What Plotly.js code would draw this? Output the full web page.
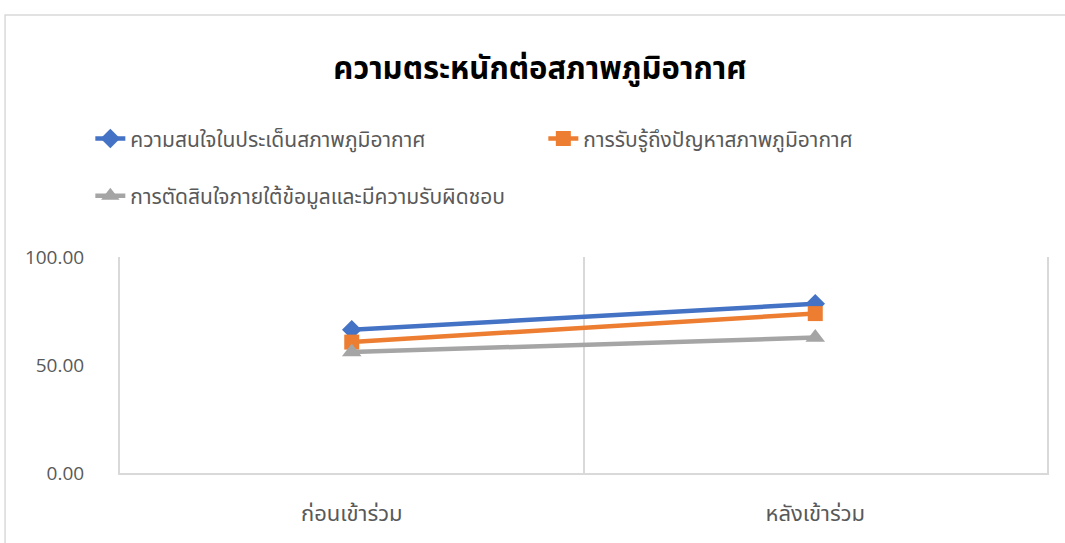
<!DOCTYPE html>
<html>
<head>
<meta charset="utf-8">
<script src="https://cdn.plot.ly/plotly-3.0.1.min.js"></script>
<style>html,body{margin:0;padding:0;background:#fff;}#chart{width:1065px;height:543px;}</style>
</head>
<body>
<div id="chart"></div>
<script>
const categories = ["ก่อนเข้าร่วม", "หลังเข้าร่วม"];
const seriesNames = ["ความสนใจในประเด็นสภาพภูมิอากาศ", "การรับรู้ถึงปัญหาสภาพภูมิอากาศ", "การตัดสินใจภายใต้ข้อมูลและมีความรับผิดชอบ"];
const interest = [66.3, 78.3];
const awareness = [60.6, 73.8];
const decision = [56.0, 62.7];
const yTicks = [0, 50, 100];

const colors = ["#4472C4", "#ED7D31", "#A5A5A5"];
const symbols = ["diamond", "square", "triangle-up"];
const values = [interest, awareness, decision];
const legends = ["legend", "legend", "legend2"];

const traces = values.map((v, i) => ({
  type: "scatter",
  mode: "lines+markers",
  x: categories,
  y: v,
  name: seriesNames[i],
  legend: legends[i],
  line: {color: colors[i], width: 4.5},
  marker: {symbol: symbols[i], size: i === 2 ? 17 : 15, color: colors[i]},
  cliponaxis: false
}));

const thaiFont = "Noto Sans Thai, Noto Sans, sans-serif";

const layout = {
  width: 1065, height: 543,
  margin: {l: 120, r: 18, t: 257, b: 70},
  paper_bgcolor: "#fff", plot_bgcolor: "#fff",
  showlegend: true,
  title: {
    text: "<b>ความตระหนักต่อสภาพภูมิอากาศ</b>",
    x: 0.507, xanchor: "center", y: 0.875, yanchor: "middle",
    font: {family: thaiFont, size: 31, color: "#000"}
  },
  xaxis: {
    type: "category",
    range: [-0.5, 1.5],
    tickson: "boundaries",
    showgrid: true, gridcolor: "#D9D9D9", gridwidth: 2,
    showline: true, linecolor: "#D9D9D9", linewidth: 2,
    ticks: "", ticklen: 0, ticklabelstandoff: 20,
    tickfont: {family: thaiFont, size: 22, color: "#595959"},
    zeroline: false, fixedrange: true
  },
  yaxis: {
    range: [0, 100],
    tickvals: yTicks,
    tickformat: ".2f",
    showgrid: false, zeroline: false,
    showline: true, mirror: true, linecolor: "#D9D9D9", linewidth: 2,
    ticks: "", ticklabelstandoff: 30,
    tickfont: {family: "Open Sans, sans-serif", size: 19, color: "#595959"},
    fixedrange: true
  },
  legend: {
    orientation: "h",
    x: -0.032, xanchor: "left",
    y: 1.547, yanchor: "middle",
    entrywidth: 408, entrywidthmode: "pixels",
    font: {family: thaiFont, size: 21, color: "#595959"},
    bgcolor: "rgba(0,0,0,0)"
  },
  legend2: {
    orientation: "h",
    x: -0.032, xanchor: "left",
    y: 1.282, yanchor: "middle",
    font: {family: thaiFont, size: 21, color: "#595959"},
    bgcolor: "rgba(0,0,0,0)"
  },
  shapes: [{
    type: "rect", xref: "paper", yref: "paper",
    x0: -0.124, x1: 1.2, y0: -0.5, y1: 2.12,
    line: {color: "#D9D9D9", width: 1.5}, fillcolor: "rgba(0,0,0,0)", layer: "below"
  }]
};

Plotly.newPlot("chart", traces, layout, {displayModeBar: false, staticPlot: true});
</script>
</body>
</html>
